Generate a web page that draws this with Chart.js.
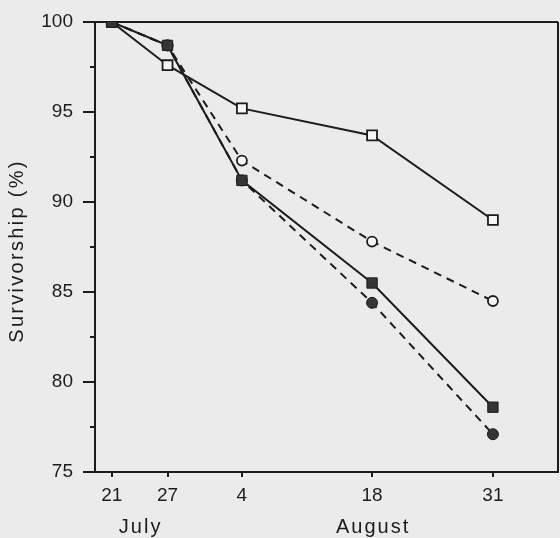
<!DOCTYPE html>
<html>
<head>
<meta charset="utf-8">
<script src="https://cdn.jsdelivr.net/npm/chart.js@4/dist/chart.umd.min.js"></script>
<style>
    html, body { margin: 0; padding: 0; background: #ebebeb; }
    #wrap { width: 560px; height: 538px; }
</style>
</head>
<body>
<div id="wrap"><canvas id="survChart" width="560" height="538"></canvas></div>
<script>
// sampling days, counted from 21 July
const days = [0, 6, 14, 28, 41];
const dayLabels = ["21", "27", "4", "18", "31"];
const monthNames = ["July", "August"];
const monthDays = [3, 28];
const yTicks = [75, 77.5, 80, 82.5, 85, 87.5, 90, 92.5, 95, 97.5, 100];

// survivorship (%) per treatment
const filledSquares = [100, 98.7, 91.2, 85.5, 78.6];
const openSquares = [100, 97.6, 95.2, 93.7, 89.0];
const openCircles = [100, 98.7, 92.3, 87.8, 84.5];
const filledCircles = [100, 98.7, 91.2, 84.4, 77.1];

const ink = "#1c1c1c";
const fillInk = "#353535";
const paper = "#f7f7f7";
const xMin = -1.8;
const xMax = 48;
const font = "'Liberation Sans', Arial, sans-serif";

const toPoints = (vals) => vals.map((v, i) => ({ x: days[i], y: v }));

// month names and rotated y title (tracked lettering like the print)
const extraText = {
    id: "extraText",
    afterDraw(chart) {
        const ctx = chart.ctx;
        const xs = chart.scales.x;
        const area = chart.chartArea;
        ctx.save();
        ctx.fillStyle = ink;
        ctx.font = "20px " + font;
        ctx.textAlign = "center";
        ctx.textBaseline = "alphabetic";
        ctx.letterSpacing = "2px";
        monthNames.forEach((m, i) => {
            ctx.fillText(m, xs.getPixelForValue(monthDays[i]) + 1, 533);
        });
        ctx.translate(23, (area.top + area.bottom) / 2 + 4);
        ctx.rotate(-Math.PI / 2);
        ctx.letterSpacing = "2.3px";
        ctx.fillText("Survivorship (%)", 0, 0);
        ctx.restore();
    },
};

const ctx = document.getElementById("survChart").getContext("2d");
new Chart(ctx, {
    type: "line",
    data: {
        datasets: [
            {
                label: "filled squares",
                data: toPoints(filledSquares),
                borderColor: ink,
                borderWidth: 2,
                pointStyle: "rect",
                pointRadius: 7.3,
                pointBackgroundColor: fillInk,
                pointBorderColor: ink,
                pointBorderWidth: 1,
            },
            {
                label: "open squares",
                data: toPoints(openSquares),
                borderColor: ink,
                borderWidth: 2,
                pointStyle: "rect",
                pointRadius: 7,
                pointBackgroundColor: paper,
                pointBorderColor: ink,
                pointBorderWidth: 1.8,
            },
            {
                label: "open circles",
                data: toPoints(openCircles),
                borderColor: ink,
                borderWidth: 2,
                borderDash: [8, 6],
                pointStyle: "circle",
                pointRadius: 5,
                pointBackgroundColor: paper,
                pointBorderColor: ink,
                pointBorderWidth: 1.8,
            },
            {
                label: "filled circles",
                data: toPoints(filledCircles),
                borderColor: ink,
                borderWidth: 2,
                borderDash: [8, 6],
                pointStyle: "circle",
                pointRadius: 5.5,
                pointBackgroundColor: fillInk,
                pointBorderColor: ink,
                pointBorderWidth: 1,
            },
        ],
    },
    options: {
        responsive: false,
        animation: false,
        devicePixelRatio: 1,
        layout: {
            autoPadding: false,
            padding: { top: 22, right: 2, left: 0, bottom: 0 },
        },
        plugins: {
            legend: { display: false },
            tooltip: { enabled: false },
        },
        scales: {
            x: {
                type: "linear",
                min: xMin,
                max: xMax,
                afterBuildTicks: (scale) => {
                    scale.ticks = days.concat([xMax]).map((v) => ({ value: v }));
                },
                afterFit: (scale) => {
                    scale.height = 66;
                    scale.paddingLeft = 0;
                    scale.paddingRight = 0;
                },
                ticks: {
                    autoSkip: false,
                    maxRotation: 0,
                    padding: 7,
                    color: ink,
                    font: { family: font, size: 19 },
                    callback: (v) => {
                        const i = days.indexOf(v);
                        return i >= 0 ? dayLabels[i] : "";
                    },
                },
                grid: {
                    color: (c) => (c.tick && c.tick.value === xMax ? ink : "transparent"),
                    lineWidth: 2,
                    tickLength: 5,
                    tickWidth: 2,
                    tickColor: (c) => (c.tick && c.tick.value === xMax ? "transparent" : ink),
                },
                border: { color: ink, width: 2 },
            },
            y: {
                min: 75,
                max: 100,
                afterBuildTicks: (scale) => {
                    scale.ticks = yTicks.map((v) => ({ value: v }));
                },
                afterFit: (scale) => {
                    scale.width = 95;
                },
                ticks: {
                    autoSkip: false,
                    padding: 10,
                    color: ink,
                    font: { family: font, size: 19 },
                    callback: (v) => (v % 5 === 0 ? String(v) : ""),
                },
                grid: {
                    color: (c) => (c.tick && c.tick.value === 100 ? ink : "transparent"),
                    lineWidth: 2,
                    tickLength: 12,
                    tickWidth: 2,
                    tickColor: ink,
                    tickBorderDash: (c) => (c.tick && c.tick.value % 5 === 0 ? [] : [0, 7, 40]),
                },
                border: { color: ink, width: 2 },
            },
        },
    },
    plugins: [extraText],
});
</script>
</body>
</html>
